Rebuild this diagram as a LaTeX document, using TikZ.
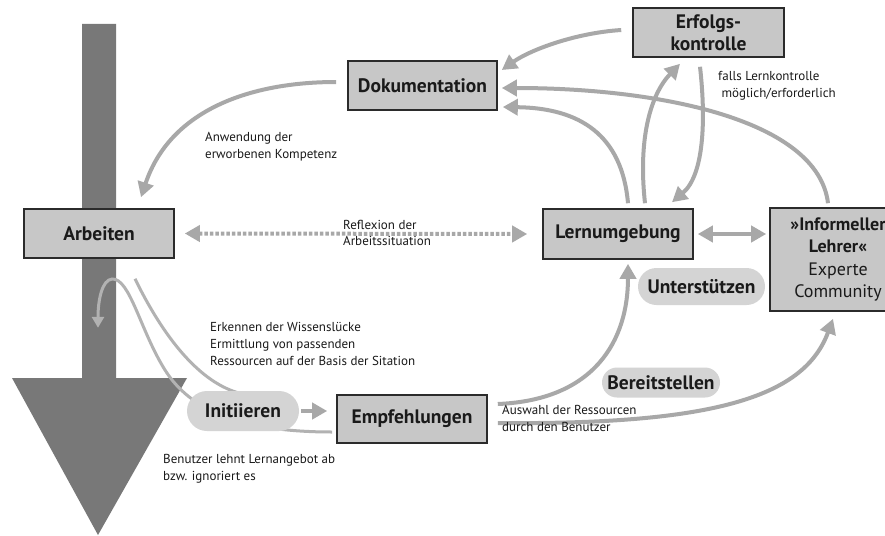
\documentclass[tikz,border=0pt]{standalone}
\usepackage{fontspec}
\setmainfont{PT Sans}
\usetikzlibrary{arrows.meta,calc,shapes.misc}
\pgfdeclarelayer{back}
\pgfdeclarelayer{mid}
\pgfsetlayers{back,mid,main}
\definecolor{boxfill}{gray}{0.78}
\definecolor{boxline}{HTML}{2B2B2B}
\definecolor{pillfill}{gray}{0.83}
\definecolor{conncol}{gray}{0.66}
\definecolor{thincol}{gray}{0.70}
\definecolor{bigarrow}{gray}{0.47}
\definecolor{txt}{HTML}{1A1A1A}
\tikzset{
  box/.style={draw=boxline, line width=1.6pt, fill=boxfill, inner sep=0pt, align=center,
    text=txt, font=\bfseries\fontsize{19.5}{22}\selectfont},
  pill/.style={rounded rectangle, fill=pillfill, inner sep=0pt, text=txt,
    font=\bfseries\fontsize{19.5}{22}\selectfont},
  conn/.style={draw=conncol, line width=4pt, -{Triangle[length=15pt,width=16pt]}},
  dconn/.style={draw=conncol, line width=4pt, {Triangle[length=15pt,width=16pt]}-{Triangle[length=15pt,width=16pt]}},
  dotconn/.style={draw=conncol, line width=4pt, dash pattern=on 3.5pt off 2pt,
    {Triangle[length=15pt,width=16pt]}-{Triangle[length=15pt,width=16pt]}},
  thinline/.style={draw=thincol, line width=3pt},
  thinconn/.style={draw=thincol, line width=3pt, -{Triangle[length=11pt,width=12pt]}},
  lbl/.style={inner sep=0pt, anchor=north west, align=left, text=txt,
    font=\fontsize{13}{17}\selectfont}
}
\begin{document}
\begin{tikzpicture}[x=1pt,y=-1pt]
\useasboundingbox (0,0) rectangle (885,535);
\clip (0,0) rectangle (885,535);
\begin{pgfonlayer}{back}
\fill[white] (0,0) rectangle (885,535);
\fill[bigarrow] (82,24) -- (116,24) -- (116,378) -- (187,378) -- (98,535) -- (12,378) -- (82,378) -- cycle;
\end{pgfonlayer}

% boxes
\node[box, minimum width=150pt, minimum height=49pt] (arb) at (99,233.5) {Arbeiten};
\node[box, minimum width=149pt, minimum height=49pt] (dok) at (422.5,85.5) {Dokumentation};
\node[box, minimum width=151pt, minimum height=49pt] (erf) at (708.5,32.5) {Erfolgs-\\kontrolle};
\node[box, minimum width=150pt, minimum height=50pt] (lern) at (618,234) {Lernumgebung};
\node[box, minimum width=136pt, minimum height=103pt, font=\bfseries\fontsize{18}{21.5}\selectfont] (inf) at (838,259.5)
  {»Informeller\\Lehrer«\\[2pt]{\mdseries Experte}\\{\mdseries Community}};
\node[box, minimum width=150pt, minimum height=48pt] (emp) at (412,419) {Empfehlungen};

% pills
\node[pill, minimum width=112pt, minimum height=40pt] (init) at (243,411) {Initiieren};
\node[pill, minimum width=127pt, minimum height=37pt] (unt) at (701.5,286.5) {Unterstützen};
\node[pill, minimum width=118pt, minimum height=30pt] (ber) at (661,382.5) {Bereitstellen};

% labels
\node[lbl] (l1) at (205,132) {Anwendung der\\erworbenen Kompetenz};
\node[lbl] (l2) at (718,71) {falls Lernkontrolle\\\ möglich/erforderlich};
\node[lbl, font=\fontsize{13}{16}\selectfont] (l3) at (343,220) {Reflexion der\\Arbeitssituation};
\node[lbl] (l4) at (210,322) {Erkennen der Wissenslücke\\Ermittlung von passenden\\Ressourcen auf der Basis der Sitation};
\node[lbl] (l5) at (163,454) {Benutzer lehnt Lernangebot ab\\bzw. ignoriert es};
\node[lbl] (l6) at (502,405) {Auswahl der Ressourcen\\durch den Benutzer};

\begin{pgfonlayer}{mid}
\draw[conn] ($(dok.west)+(-11,-3.5)$) .. controls (250,82) and (170,110) .. ($(arb.north)+(42,-11)$);
\draw[conn] ($(erf.west)+(-11,-2.5)$) .. controls (575,33) and (530,50) .. ($(dok.east)+(4,-15.5)$);
\draw[conn] ($(inf.north)+(-10,-4)$) .. controls (818,120) and (660,88) .. ($(dok.east)+(4,2.5)$);
\draw[conn] ($(lern.north)+(10,-5)$) .. controls (622,135) and (580,108) .. ($(dok.east)+(5,21.5)$);
\draw[conn] ($(lern.north)+(27,-5)$) .. controls (638,140) and (650,95) .. ($(erf.south)+(-28.5,6)$);
\draw[conn] ($(erf.south)+(-8.5,9)$) .. controls (706,120) and (704,175) .. ($(lern.north)+(54,-6)$);
\draw[dconn] ([xshift=4pt]lern.east) -- ([xshift=-3pt]lern.east -| inf.west);
\draw[dotconn] ([xshift=10pt]arb.east) -- ([xshift=-15pt]lern.west);
\draw[conn] ($(emp.east)+(10,-15)$) .. controls (595,400) and (628,340) .. ($(lern.south)+(10,4)$);
\draw[conn] ($(emp.east)+(10,4)$) .. controls (720,425) and (805,395) .. ($(inf.south)+(-5,7)$);
\draw[conn] ([xshift=2pt]init.east) -- ($(emp.west)+(-9,-8)$);
\draw[thinline] ($(arb.south)+(36,20)$) .. controls (160,330) and (195,380) .. ($(init.north)+(-5,2)$);
\draw[thinconn] ($(emp.west)+(-4,13)$) .. controls (240,432) and (190,410) .. (165,370)
   .. controls (140,330) and (130,278) .. (112,279)
   .. controls (102,280) and (98,300) .. ($(arb.south)+(-1,69)$);
\end{pgfonlayer}
\end{tikzpicture}
\end{document}
